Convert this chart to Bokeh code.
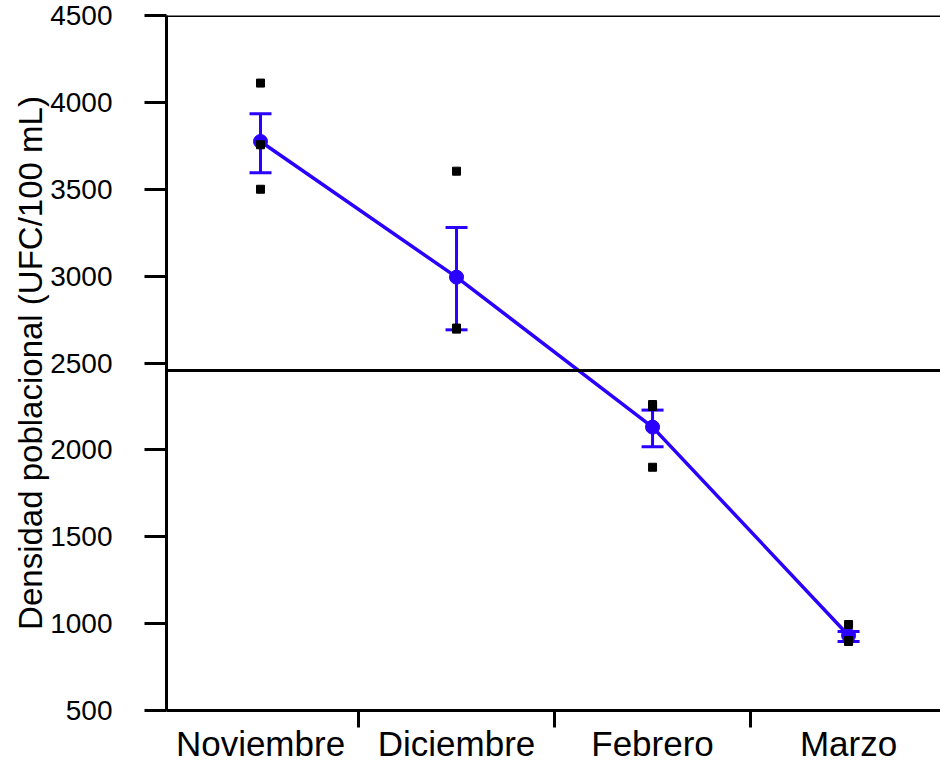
from bokeh.plotting import figure
from bokeh.models import (ColumnDataSource, Whisker, TeeHead, Span,
                          FixedTicker, Range1d)
from bokeh.embed import file_html
from bokeh.resources import INLINE

# Monthly population density (UFC/100 mL)
months = ["Noviembre", "Diciembre", "Febrero", "Marzo"]
means = [3775, 2994, 2131, 932]
err_upper = [3934, 3280, 2229, 955]
err_lower = [3595, 2691, 2018, 897]

# individual replicates per month
rep_nov = [4111, 3756, 3500]
rep_dic = [3604, 2701, 2695]
rep_feb = [2261, 2250, 1900]
rep_mar = [995, 897, 903]

reference_level = 2457
y_ticks = [500, 1000, 1500, 2000, 2500, 3000, 3500, 4000, 4500]

BLUE = "#2a00ff"
FONT = "Liberation Sans"

centers = [i + 0.5 for i in range(len(months))]
bounds = [i + 1 for i in range(len(months) - 1)]

p = figure(frame_width=774, frame_height=695, output_backend="svg",
           toolbar_location=None,
           x_range=Range1d(0.0204, 3.969), y_range=Range1d(y_ticks[0], y_ticks[-1]),
           min_border_left=166, min_border_right=0, min_border_top=15,
           min_border_bottom=0)
p.outline_line_color = None
p.xgrid.visible = False
p.ygrid.visible = False
p.background_fill_color = "white"
p.border_fill_color = "white"

# y axis
p.yaxis.ticker = FixedTicker(ticks=y_ticks, minor_ticks=[])
p.yaxis.axis_line_width = 3
p.yaxis.axis_line_color = "black"
p.yaxis.major_tick_line_width = 3
p.yaxis.major_tick_out = 22
p.yaxis.major_tick_in = 0
p.yaxis.major_label_standoff = 32
p.yaxis.major_label_text_font = FONT
p.yaxis.major_label_text_font_size = "28px"
p.yaxis.major_label_text_color = "black"
p.yaxis.axis_label = "Densidad poblacional (UFC/100 mL)"
p.yaxis.axis_label_text_font = FONT
p.yaxis.axis_label_text_font_size = "33px"
p.yaxis.axis_label_text_font_style = "normal"
p.yaxis.axis_label_text_color = "black"
p.yaxis.axis_label_standoff = -2

# x axis: labels centred on each month, ticks between months
p.xaxis.ticker = FixedTicker(ticks=centers, minor_ticks=bounds)
p.xaxis.major_label_overrides = {c: m for c, m in zip(centers, months)}
p.xaxis.axis_line_width = 3
p.xaxis.axis_line_color = "black"
p.xaxis.major_tick_out = 0
p.xaxis.major_tick_in = 0
p.xaxis.minor_tick_out = 17
p.xaxis.minor_tick_in = 0
p.xaxis.minor_tick_line_width = 3
p.xaxis.minor_tick_line_color = "black"
p.xaxis.major_label_standoff = -4
p.xaxis.major_label_text_font = FONT
p.xaxis.major_label_text_font_size = "35px"
p.xaxis.major_label_text_color = "black"

# horizontal lines: top of scale and reference level
p.add_layout(Span(location=y_ticks[-1], dimension="width", line_color="black",
                  line_width=3))
p.add_layout(Span(location=reference_level, dimension="width",
                  line_color="black", line_width=3))

# mean trend with error bars
src = ColumnDataSource(dict(x=centers, mean=means, upper=err_upper, lower=err_lower))
p.line("x", "mean", source=src, line_color=BLUE, line_width=3.5)
p.add_layout(Whisker(base="x", upper="upper", lower="lower", source=src,
                     dimension="height", line_color=BLUE, line_width=3,
                     upper_head=TeeHead(size=22, line_color=BLUE, line_width=3),
                     lower_head=TeeHead(size=22, line_color=BLUE, line_width=3)))
p.scatter("x", "mean", source=src, size=14, marker="circle",
          fill_color=BLUE, line_color=BLUE)

# replicate points
reps = [rep_nov, rep_dic, rep_feb, rep_mar]
rx, ry = [], []
for c, vals in zip(centers, reps):
    for v in vals:
        rx.append(c)
        ry.append(v)
p.scatter(rx, ry, marker="square", size=8, fill_color="black", line_color="black")

open("out.html", "w").write(file_html(p, INLINE))
